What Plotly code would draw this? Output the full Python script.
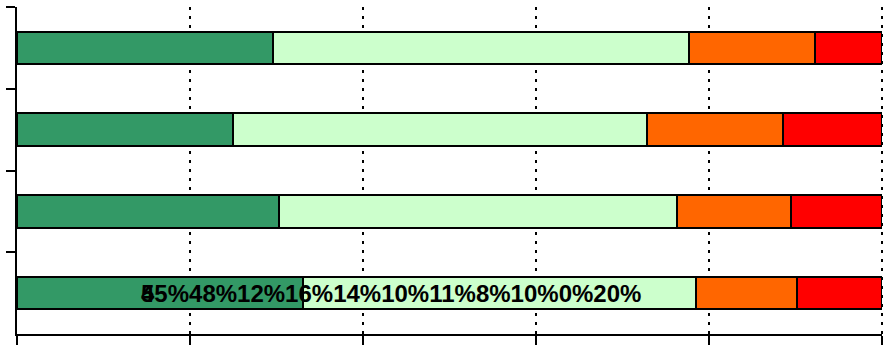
import plotly.graph_objects as go

categories = ["Q1", "Q2", "Q3", "Q4"]
series_names = ["S1", "S2", "S3", "S4"]
s1 = [29.6, 25.0, 30.3, 33.1]
s2 = [48.1, 47.8, 46.0, 45.4]
s3 = [14.6, 15.8, 13.2, 11.7]
s4 = [7.7, 11.4, 10.5, 9.8]
colors = ["#339966", "#CCFFCC", "#FF6600", "#FF0000"]
labels = ["45%", "48%", "12%", "16%", "14%", "10%", "11%", "8%", "10%", "0%", "20%"]
overlap_label = "5"

fig = go.Figure()
for name, vals, col in zip(series_names, [s1, s2, s3, s4], colors):
    fig.add_trace(go.Bar(
        y=categories, x=vals, orientation="h", name=name,
        marker=dict(color=col, line=dict(color="black", width=2)),
        hoverinfo="skip",
    ))

font = dict(family="Liberation Sans, Arial", size=24, color="black", weight="bold")
fig.add_annotation(x=14.1, y=categories[3], xref="x", yref="y", text="".join(labels),
                   showarrow=False, xanchor="left", yanchor="middle", font=font)
fig.add_annotation(x=14.1, y=categories[3], xref="x", yref="y", text=overlap_label,
                   showarrow=False, xanchor="left", yanchor="middle", font=font)

# dotted gridline at the right edge (100%)
fig.add_shape(type="line", xref="paper", yref="paper", x0=1, x1=1, y0=0, y1=1,
              line=dict(color="black", width=2, dash="3px,6px"), layer="above")

fig.update_layout(
    barmode="stack", bargap=0.6, showlegend=False,
    width=894, height=345,
    margin=dict(l=17, r=12, t=7, b=11, autoexpand=False),
    paper_bgcolor="white", plot_bgcolor="white",
    xaxis=dict(range=[0, 100], dtick=20, tick0=0, showticklabels=False,
               showline=True, linecolor="black", linewidth=2,
               ticks="outside", ticklen=10, tickwidth=2, tickcolor="black",
               showgrid=True, gridcolor="black", gridwidth=2, griddash="3px,6px",
               zeroline=False, automargin=False),
    yaxis=dict(type="category", categoryorder="array", categoryarray=categories,
               autorange="reversed", showticklabels=False, tickson="boundaries",
               showline=True, linecolor="black", linewidth=2,
               ticks="outside", ticklen=9, tickwidth=2, tickcolor="black",
               showgrid=False, zeroline=False, automargin=False),
)

fig.write_html(
    "out.html",
    config={"displayModeBar": False},
    post_script="document.body.style.margin='0';document.body.style.overflow='hidden';",
)
